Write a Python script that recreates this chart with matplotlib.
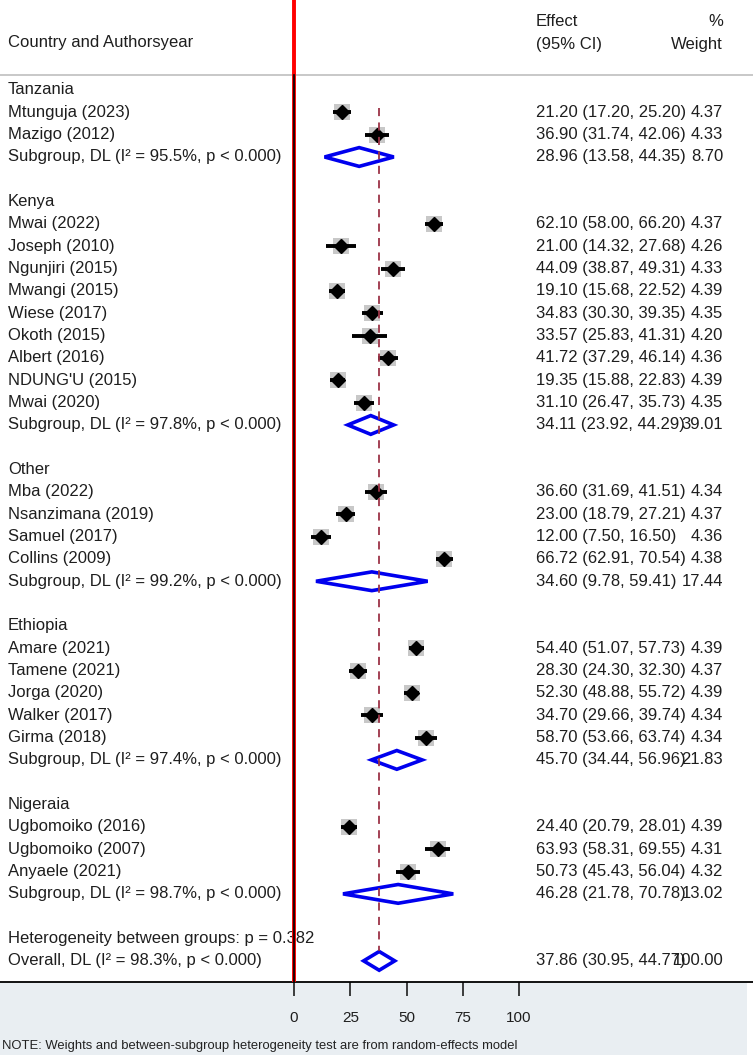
import matplotlib
matplotlib.use("Agg")
import matplotlib.pyplot as plt
from matplotlib.patches import Polygon, Rectangle

plt.rcParams['font.family'] = ['Liberation Sans', 'DejaVu Sans']

# ---- data ----
groups = ["Tanzania", "Kenya", "Other", "Ethiopia", "Nigeraia"]

studies = ["Mtunguja (2023)", "Mazigo (2012)",
           "Mwai (2022)", "Joseph (2010)", "Ngunjiri (2015)", "Mwangi (2015)", "Wiese (2017)",
           "Okoth (2015)", "Albert (2016)", "NDUNG'U (2015)", "Mwai (2020)",
           "Mba (2022)", "Nsanzimana (2019)", "Samuel (2017)", "Collins (2009)",
           "Amare (2021)", "Tamene (2021)", "Jorga (2020)", "Walker (2017)", "Girma (2018)",
           "Ugbomoiko (2016)", "Ugbomoiko (2007)", "Anyaele (2021)"]
study_group = [0, 0,
               1, 1, 1, 1, 1, 1, 1, 1, 1,
               2, 2, 2, 2,
               3, 3, 3, 3, 3,
               4, 4, 4]
est = [21.20, 36.90,
       62.10, 21.00, 44.09, 19.10, 34.83, 33.57, 41.72, 19.35, 31.10,
       36.60, 23.00, 12.00, 66.72,
       54.40, 28.30, 52.30, 34.70, 58.70,
       24.40, 63.93, 50.73]
lo = [17.20, 31.74,
      58.00, 14.32, 38.87, 15.68, 30.30, 25.83, 37.29, 15.88, 26.47,
      31.69, 18.79, 7.50, 62.91,
      51.07, 24.30, 48.88, 29.66, 53.66,
      20.79, 58.31, 45.43]
hi = [25.20, 42.06,
      66.20, 27.68, 49.31, 22.52, 39.35, 41.31, 46.14, 22.83, 35.73,
      41.51, 27.21, 16.50, 70.54,
      57.73, 32.30, 55.72, 39.74, 63.74,
      28.01, 69.55, 56.04]
wt = [4.37, 4.33,
      4.37, 4.26, 4.33, 4.39, 4.35, 4.20, 4.36, 4.39, 4.35,
      4.34, 4.37, 4.36, 4.38,
      4.39, 4.37, 4.39, 4.34, 4.34,
      4.39, 4.31, 4.32]

sub_est = [28.96, 34.11, 34.60, 45.70, 46.28]
sub_lo = [13.58, 23.92, 9.78, 34.44, 21.78]
sub_hi = [44.35, 44.29, 59.41, 56.96, 70.78]
sub_wt = [8.70, 39.01, 17.44, 21.83, 13.02]
sub_i2 = [95.5, 97.8, 99.2, 97.4, 98.7]

ov_est, ov_lo, ov_hi, ov_wt, ov_i2 = 37.86, 30.95, 44.77, 100.00, 98.3
het_p = "0.382"
xticks = [0, 25, 50, 75, 100]

# ---- layout ----
W, H = 753, 1055
fig = plt.figure(figsize=(W / 100, H / 100), dpi=100)
axis_px = 982
ax = fig.add_axes([0, 1 - axis_px / H, 1, axis_px / H])
px_per_unit = 2.25
zero_px = 294
ax.set_xlim(-zero_px / px_per_unit, (W - zero_px) / px_per_unit)
row0_px, row_h = 90, 22.33
ax.set_ylim((axis_px - row0_px) / row_h, -row0_px / row_h)

fs = 12
txt_col = '#1e1e1e'
x_lab = (8 - zero_px) / px_per_unit
x_eff = (536 - zero_px) / px_per_unit
x_wt = (723 - zero_px) / px_per_unit

# header
hdr_line = (75 - row0_px) / row_h
ax.text(x_lab, (42 - row0_px) / row_h, "Country and Authorsyear", fontsize=fs, va='center', color=txt_col)
ax.text(x_eff, (22 - row0_px) / row_h, "Effect", fontsize=fs, va='center', color=txt_col)
ax.text(x_eff, (44 - row0_px) / row_h, "(95% CI)", fontsize=fs, va='center', color=txt_col)
ax.text(x_wt, (22 - row0_px) / row_h, "%", fontsize=fs, va='center', ha='right', color=txt_col)
ax.text(x_wt, (44 - row0_px) / row_h, "Weight", fontsize=fs, va='center', ha='right', color=txt_col)
ax.axhline(hdr_line, color='#c4c4c4', lw=1.3)

def row_text(y, label, e, l, h, w):
    ax.text(x_lab, y, label, fontsize=fs, va='center', color=txt_col)
    if e is not None:
        ax.text(x_eff, y, "%.2f (%.2f, %.2f)" % (e, l, h), fontsize=fs, va='center', color=txt_col)
        ax.text(x_wt, y, "%.2f" % w, fontsize=fs, va='center', ha='right', color=txt_col)

def diamond(y, e, l, h):
    dh = 0.42
    ax.add_patch(Polygon([(l, y), (e, y - dh), (h, y), (e, y + dh)], closed=True,
                         facecolor='white', edgecolor='#0000ee', lw=2.6, zorder=3))

row = 0
for g, gname in enumerate(groups):
    row_text(row, gname, None, None, None, None)
    row += 1
    for i in range(len(studies)):
        if study_group[i] != g:
            continue
        row_text(row, studies[i], est[i], lo[i], hi[i], wt[i])
        ax.scatter(est[i], row, s=wt[i] * 30, marker='s', color='#c8c8c8', zorder=2, lw=0)
        ax.plot([lo[i], hi[i]], [row, row], color='black', lw=2.8, zorder=4, solid_capstyle='butt')
        ax.plot(est[i], row, marker='D', ms=7.5, color='black', zorder=5)
        row += 1
    row_text(row, "Subgroup, DL (I\u00b2 = %.1f%%, p < 0.000)" % sub_i2[g],
             sub_est[g], sub_lo[g], sub_hi[g], sub_wt[g])
    diamond(row, sub_est[g], sub_lo[g], sub_hi[g])
    row += 2

row_text(row, "Heterogeneity between groups: p = " + het_p, None, None, None, None)
row += 1
row_text(row, "Overall, DL (I\u00b2 = %.1f%%, p < 0.000)" % ov_i2, ov_est, ov_lo, ov_hi, ov_wt)
diamond(row, ov_est, ov_lo, ov_hi)

# reference lines
ax.plot([ov_est, ov_est], [(108 - row0_px) / row_h, row - 0.45], color='#9c3346',
        lw=1.3, ls=(0, (4.5, 3.5)), zorder=6)
ax.axvline(0, color='red', lw=2.8, zorder=7)
ax.plot([0, 0], [hdr_line, (axis_px - row0_px) / row_h], color='black', lw=1.2, zorder=8)

# axis
for s in ['top', 'left', 'right']:
    ax.spines[s].set_visible(False)
ax.spines['bottom'].set_linewidth(1.3)
ax.set_yticks([])
ax.set_xticks(xticks)
ax.tick_params(axis='x', direction='out', length=10, width=1.2, labelsize=11, pad=11, colors='#1e1e1e')

# grey band under the axis and note
fig.patches.append(Rectangle((0, 0), 747 / W, 1 - axis_px / H, transform=fig.transFigure,
                             facecolor='#e9eef2', edgecolor='none', zorder=-1))
fig.text(2 / W, 1 - 1046 / H, "NOTE: Weights and between-subgroup heterogeneity test are from random-effects model",
         fontsize=9.4, va='center', color='#222222')

fig.savefig("out.png", dpi=100)
